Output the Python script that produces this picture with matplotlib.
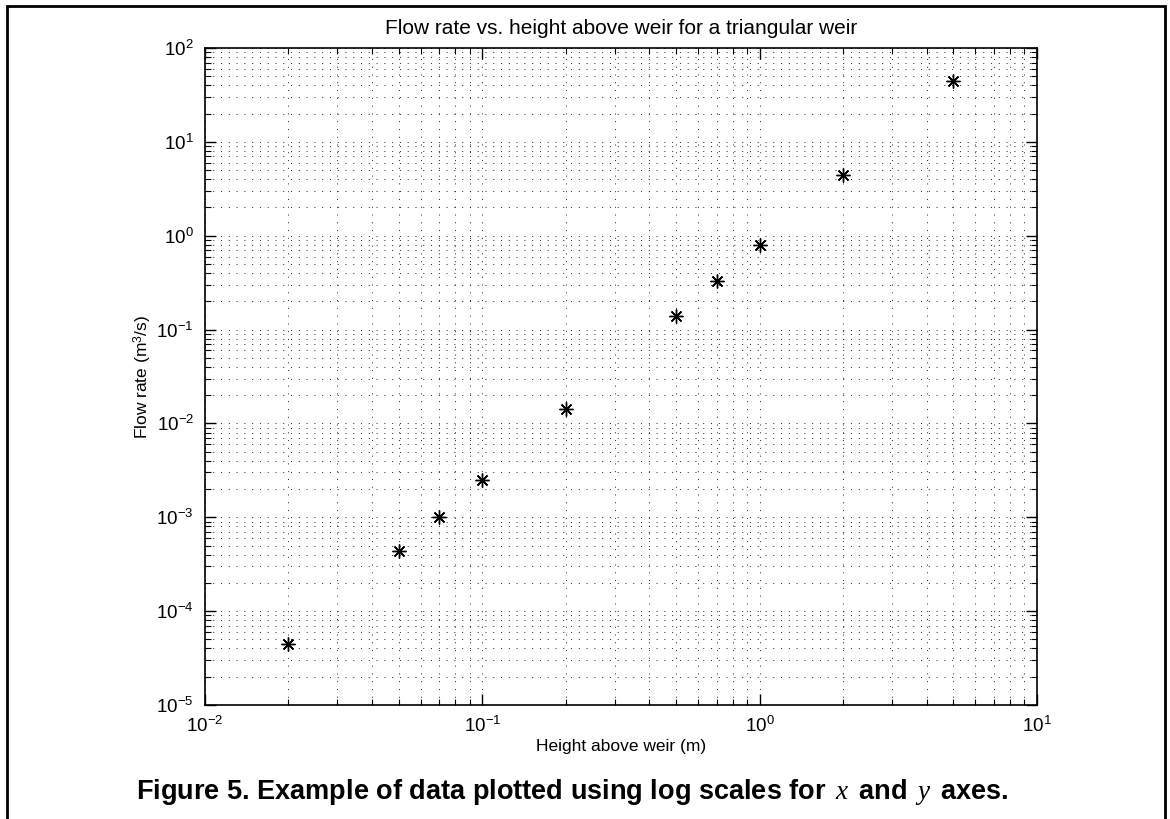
import matplotlib
matplotlib.use("Agg")
import matplotlib.pyplot as plt
from matplotlib.patches import Rectangle

# weir data: height above weir (m) and flow rate (m^3/s)
height = [0.02, 0.05, 0.07, 0.1, 0.2, 0.5, 0.7, 1.0, 2.0, 5.0]
flow = [4.5e-5, 4.4e-4, 1.0e-3, 2.5e-3, 1.42e-2, 0.14, 0.33, 0.79, 4.45, 44.5]

plt.rcParams['font.family'] = ['Liberation Sans', 'DejaVu Sans']
plt.rcParams['mathtext.fontset'] = 'custom'
plt.rcParams['mathtext.rm'] = 'Liberation Sans'
plt.rcParams['mathtext.it'] = 'Liberation Serif:italic'
plt.rcParams['mathtext.bf'] = 'Liberation Sans:bold'

fig = plt.figure(figsize=(11.7, 8.19), dpi=100)
ax = fig.add_axes([0.1752, 0.1392, 0.7111, 0.8022])

ax.loglog(height, flow, linestyle='none', marker=(8, 2, 0),
          markersize=10, color='k', markeredgewidth=1.0)

ax.set_xlim(1e-2, 1e1)
ax.set_ylim(1e-5, 1e2)

ax.grid(True, which='both', linestyle=(0, (1, 7)), color='#222222',
        linewidth=0.7)
ax.tick_params(which='both', direction='in', top=True, right=True,
               labelsize=13.5, pad=8)
ax.tick_params(which='major', length=8, width=1)
ax.tick_params(which='minor', length=4, width=0.8)
for s in ax.spines.values():
    s.set_linewidth(1.2)

ax.set_title('Flow rate vs. height above weir for a triangular weir',
             fontsize=15, pad=10)
ax.set_xlabel('Height above weir (m)', fontsize=12.5, labelpad=2)
ax.set_ylabel(r'Flow rate (m$^3$/s)', fontsize=12.5, labelpad=2)

# frame around the figure (page box)
fig.patches.append(Rectangle((7 / 1170, -0.05), 1158 / 1170, 1 - 6 / 819 + 0.05,
                             transform=fig.transFigure, fill=False,
                             edgecolor='k', linewidth=2.0))

# clipped line of text from the page above (only descenders visible)
fig.text(10 / 1170, 1 + 4.5 / 819,
         'Example plot (x) of data plotted using linear scaling for y axis',
         fontsize=19, fontweight='bold', ha='left', va='baseline')

fig.text(572 / 1170, 20 / 819,
         r'Figure 5. Example of data plotted using log scales for $\,x\,$ and $\,y\,$ axes.',
         fontsize=19.5, fontweight='bold', ha='center', va='baseline')

fig.savefig('out.png', dpi=100)
